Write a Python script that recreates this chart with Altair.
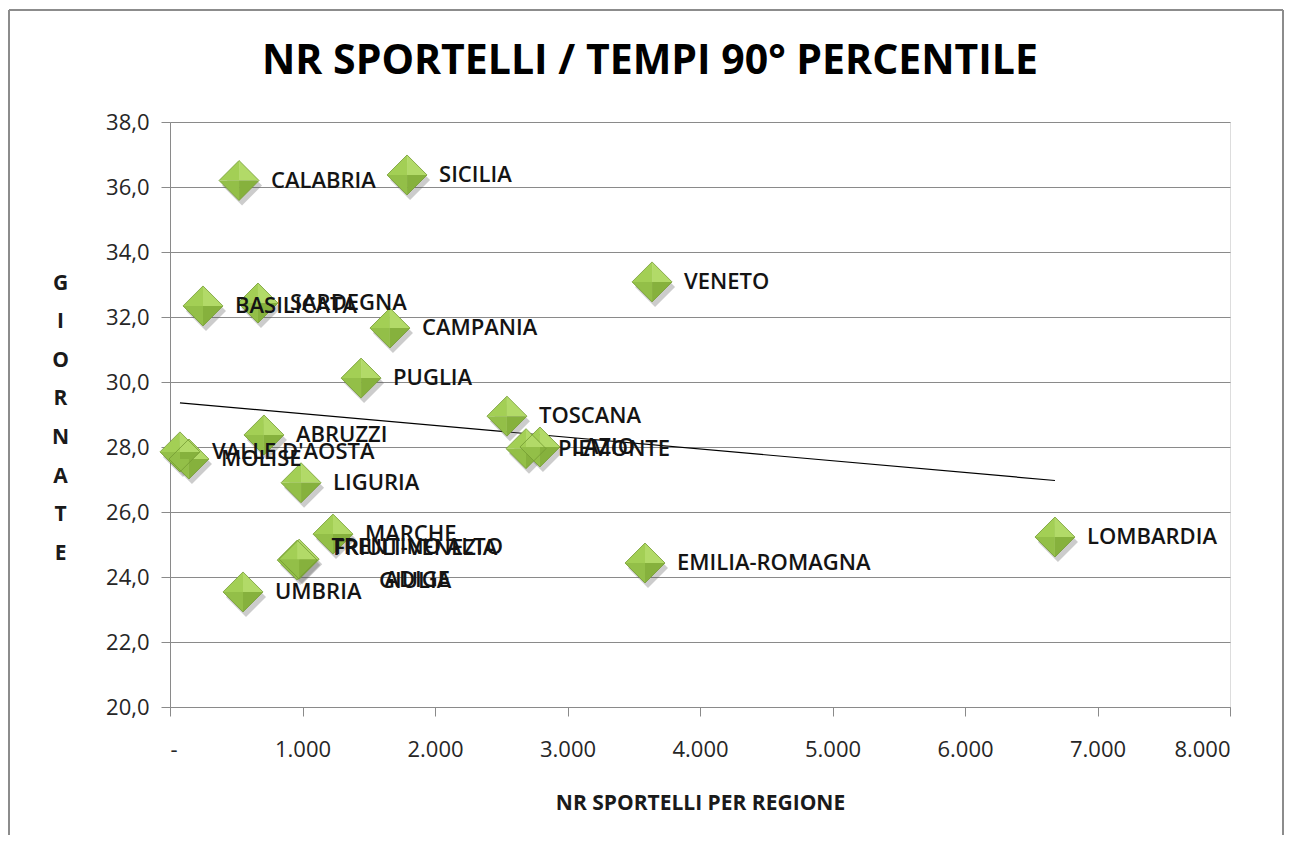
import altair as alt
import pandas as pd

regioni = ["CALABRIA", "SICILIA", "VENETO", "BASILICATA", "SARDEGNA", "CAMPANIA",
           "PUGLIA", "TOSCANA", "LAZIO", "PIEMONTE", "ABRUZZI", "VALLE D'AOSTA",
           "MOLISE", "LIGURIA", "MARCHE", "FRIULI-VENEZIA\nGIULIA",
           "TRENTINO ALTO\nADIGE", "UMBRIA", "EMILIA-ROMAGNA", "LOMBARDIA"]
sportelli = [521, 1789, 3638, 249, 664, 1660, 1442, 2543, 2792, 2687, 709, 75,
             143, 989, 1230, 960, 975, 551, 3585, 6679]
giornate = [36.2, 36.37, 33.08, 32.34, 32.43, 31.66, 30.12, 28.95, 28.0, 27.95,
            28.37, 27.85, 27.63, 26.9, 25.32, 24.52, 24.55, 23.54, 24.43, 25.23]

x_ticks = [0, 1000, 2000, 3000, 4000, 5000, 6000, 7000, 8000]
y_ticks = [20, 22, 24, 26, 28, 30, 32, 34, 36, 38]

df = pd.DataFrame({"regione": regioni, "sportelli": sportelli, "giornate": giornate})

FONT = "Open Sans"
GRID = "#8a8a8a"

x_enc = alt.X("sportelli:Q",
              scale=alt.Scale(domain=[0, 8000], nice=False, zero=False),
              axis=alt.Axis(values=x_ticks, grid=False, tickSize=9, tickColor=GRID,
                            domainColor=GRID, labelFont=FONT, labelFontSize=22,
                            labelColor="#262626", labelPadding=23,
                            labelExpr="datum.value == 0 ? '-' : replace(format(datum.value, ','), ',', '.')",
                            title="NR SPORTELLI PER REGIONE", titleFont=FONT,
                            titleFontSize=21, titleFontWeight="bold", titleColor="#1a1a1a",
                            titleY=96, titleBaseline="middle", titleX=530))
y_enc = alt.Y("giornate:Q",
              scale=alt.Scale(domain=[20, 38], nice=False, zero=False),
              axis=alt.Axis(values=y_ticks, grid=True, gridColor=GRID, tickSize=9,
                            tickColor=GRID, domainColor=GRID, labelFont=FONT,
                            labelFontSize=22, labelColor="#262626", labelPadding=12,
                            labelExpr="replace(format(datum.value, '.1f'), '.', ',')",
                            title=list("GIORNATE"), titleAngle=0, titleFont=FONT,
                            titleFontSize=21, titleFontWeight="bold", titleColor="#1a1a1a",
                            titleLineHeight=38.6, titleX=-110, titleY=161,
                            titleAlign="center", titleBaseline="middle"))

base = alt.Chart(df)

frame_df = pd.DataFrame({"k": [0]})
frame_top = alt.Chart(frame_df).mark_rule(color="#8c8c8c", strokeWidth=2).encode(
    x=alt.value(-161), x2=alt.value(1113), y=alt.value(-112))
frame_left = alt.Chart(frame_df).mark_rule(color="#8c8c8c", strokeWidth=2).encode(
    x=alt.value(-161), y=alt.value(-112), y2=alt.value(720))
frame_right = alt.Chart(frame_df).mark_rule(color="#8c8c8c", strokeWidth=2).encode(
    x=alt.value(1113), y=alt.value(-112), y2=alt.value(720))

title = alt.Chart(frame_df).mark_text(
    text="NR SPORTELLI / TEMPI 90° PERCENTILE", font=FONT, fontSize=41,
    fontWeight="bold", color="#000000", align="center", baseline="middle").encode(
    x=alt.value(480), y=alt.value(-60))

trend = base.transform_regression("sportelli", "giornate").mark_line(
    color="black", strokeWidth=1.2).encode(x=x_enc, y=y_enc)

SIZE = 1600
shadow = base.mark_point(shape="M-1,0L0,-1L1,0L0,1Z", filled=True, size=SIZE,
                         color="#555555", opacity=0.3, xOffset=3, yOffset=5).encode(x=x_enc, y=y_enc)

faces = [
    ("M-1,0L0,-1L0,0Z", "#a3cf55"),
    ("M0,-1L1,0L0,0Z", "#b2da68"),
    ("M1,0L0,1L0,0Z", "#86b13d"),
    ("M0,1L-1,0L0,0Z", "#93bf48"),
]
face_layers = [
    base.mark_point(shape=p, filled=True, size=SIZE, color=c, opacity=1,
                    strokeWidth=0).encode(x=x_enc, y=y_enc)
    for p, c in faces
]
outline = base.mark_point(shape="M-1,0L0,-1L1,0L0,1Z", filled=False, size=SIZE,
                          color="#739a32", strokeWidth=0.8, opacity=1).encode(x=x_enc, y=y_enc)

label_style = dict(baseline="middle", font=FONT, fontSize=22, fontWeight=600,
                   color="#141414", lineBreak="\n", lineHeight=33)
labels_single = base.transform_filter("indexof(datum.regione, '\\n') < 0").mark_text(
    align="left", dx=32, **label_style).encode(x=x_enc, y=y_enc, text="regione:N")
labels_wrapped = base.transform_filter("indexof(datum.regione, '\\n') >= 0").mark_text(
    align="center", dx=118, dy=-12, **label_style).encode(x=x_enc, y=y_enc, text="regione:N")

chart = alt.layer(frame_top, frame_left, frame_right, title, trend, shadow, *face_layers,
                  outline, labels_single, labels_wrapped).properties(
    width=1060, height=585,
    autosize=alt.AutoSizeParams(type="none"),
    padding={"left": 162, "top": 114, "right": 55, "bottom": 128},
).configure_view(stroke=None).configure(background="white")

chart.save("out.html", embed_options={"renderer": "svg", "actions": False})
